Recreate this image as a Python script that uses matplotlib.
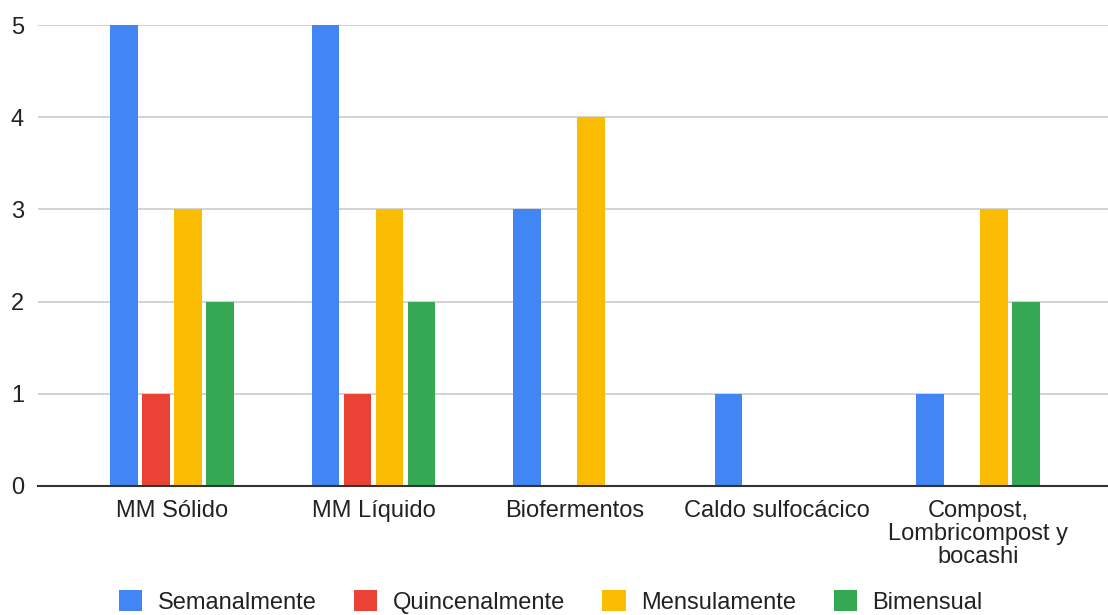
import matplotlib.pyplot as plt
import numpy as np

plt.rcParams['font.family'] = ['Liberation Sans', 'DejaVu Sans']

categories = ['MM Sólido', 'MM Líquido', 'Biofermentos', 'Caldo sulfocácico',
              'Compost,\nLombricompost y\nbocashi']
series = ['Semanalmente', 'Quincenalmente', 'Mensulamente', 'Bimensual']
semanal = [5, 5, 3, 1, 1]
quincenal = [1, 1, 0, 0, 0]
mensual = [3, 3, 4, 0, 3]
bimensual = [2, 2, 0, 0, 2]
colors = ['#4285F4', '#EA4335', '#FBBC04', '#34A853']

values = [semanal, quincenal, mensual, bimensual]

fig = plt.figure(figsize=(11.08, 6.15), dpi=100)
ax = fig.add_axes([38 / 1108, 129 / 615, 1070 / 1108, 461 / 615])

x = np.arange(len(categories))
step = 0.159
width = 0.138
for i, (name, vals, c) in enumerate(zip(series, values, colors)):
    ax.bar(x + (i - 1.5) * step, vals, width, color=c, label=name, zorder=3)

ax.set_xlim(-0.665, 4.645)
ax.set_ylim(0, 5)
ax.set_yticks(range(6))
ax.yaxis.grid(True, color='#cccccc', linewidth=1.2, zorder=0)
for s in ['top', 'right', 'left']:
    ax.spines[s].set_visible(False)
ax.spines['bottom'].set_color('#333333')
ax.spines['bottom'].set_linewidth(1.5)
ax.spines['bottom'].set_zorder(4)
ax.tick_params(axis='both', length=0, labelsize=17, colors='#222222')
ax.tick_params(axis='y', pad=10)
ax.tick_params(axis='x', pad=10)
ax.set_xticks(x)
ax.set_xticklabels(categories, linespacing=1.05)

fig.legend(loc='center', bbox_to_anchor=(0.497, 0.021), ncol=4, frameon=False,
           fontsize=17, handlelength=1.0, handleheight=0.95, columnspacing=1.58,
           handletextpad=0.65, labelcolor='#222222', borderpad=0.2)

fig.savefig('out.png', dpi=100)
